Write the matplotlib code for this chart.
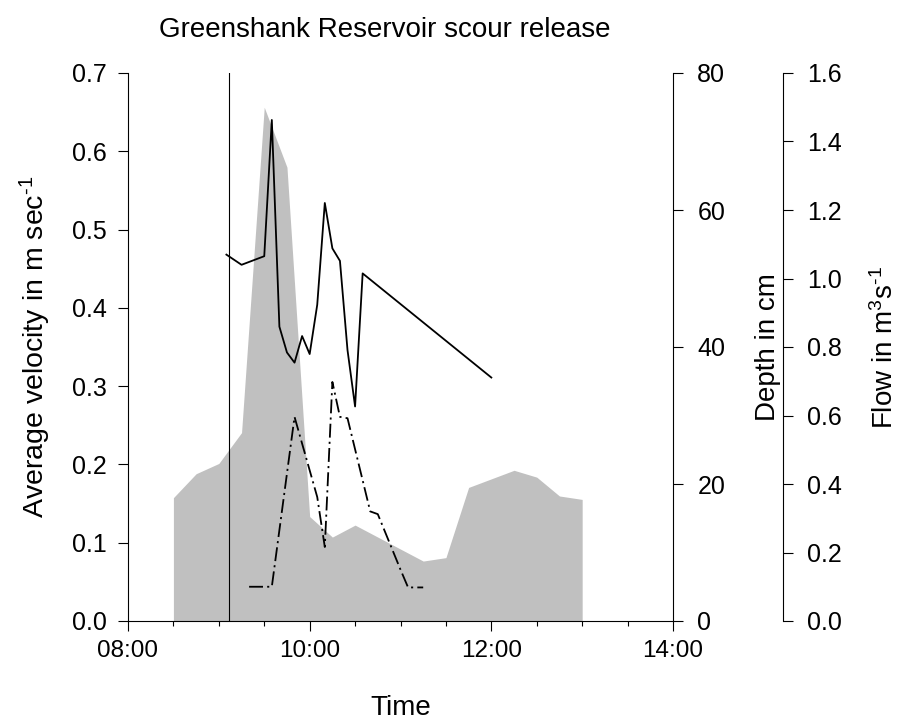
import numpy as np
import matplotlib
matplotlib.use("Agg")
import matplotlib.pyplot as plt
from matplotlib.ticker import FuncFormatter, MultipleLocator

plt.rcParams['font.family'] = ['Liberation Sans', 'DejaVu Sans']
plt.rcParams['mathtext.fontset'] = 'custom'
plt.rcParams['mathtext.rm'] = 'Liberation Sans'
plt.rcParams['mathtext.default'] = 'regular'
plt.rcParams['lines.scale_dashes'] = False

# flow (grey area), m3/s
flow_time = ["08:30", "08:45", "09:00", "09:15", "09:30", "09:45", "10:00", "10:15",
             "10:30", "11:15", "11:30", "11:45", "12:00", "12:15", "12:30", "12:45", "13:00"]
flow = [0.36, 0.43, 0.46, 0.55, 1.50, 1.325, 0.305, 0.245,
        0.28, 0.175, 0.185, 0.39, 0.415, 0.44, 0.42, 0.365, 0.355]

# average velocity (solid line), m/s
vel_time = ["09:05", "09:15", "09:30", "09:35", "09:40", "09:45", "09:50", "09:55", "10:00",
            "10:05", "10:10", "10:15", "10:20", "10:25", "10:30", "10:35", "12:00"]
velocity = [0.468, 0.455, 0.466, 0.640, 0.376, 0.343, 0.330, 0.364, 0.341,
            0.404, 0.534, 0.476, 0.460, 0.346, 0.274, 0.444, 0.311]

# depth (dash-dot line), cm
depth_time = ["09:20", "09:35", "09:50", "10:05", "10:10", "10:15", "10:20", "10:25",
              "10:40", "10:45", "11:00", "11:05", "11:15"]
depth = [5, 5, 29.8, 18.1, 10.8, 34.9, 29.8, 29.6, 16.0, 15.6, 7.5, 4.9, 4.9]

release_time = "09:07"


def hours(ts):
    return np.array([int(t[:2]) + int(t[3:]) / 60 for t in ts])


fig = plt.figure(figsize=(9.04, 7.24), dpi=100)
ax = fig.add_axes([128 / 904, 1 - 621 / 724, 545 / 904, 548 / 724])
axd = ax.twinx()
axf = ax.twinx()

axf.set_zorder(1)
axd.set_zorder(2)
ax.set_zorder(3)
for a in (ax, axd, axf):
    a.patch.set_visible(False)

axf.fill_between(hours(flow_time), flow, 0, color='#c0c0c0', lw=0)
axf.set_ylim(0, 1.6)
axf.set_yticks(np.arange(0, 1.61, 0.2))
axf.yaxis.set_major_formatter(FuncFormatter(lambda v, p: f"{v:.1f}"))
axf.spines['right'].set_position(('outward', 79))

ax.axvline(hours([release_time])[0], color='black', lw=0.8)
ax.plot(hours(vel_time), velocity, color='black', lw=1.3)
ax.set_ylim(0, 0.7)
ax.set_yticks(np.arange(0, 0.71, 0.1))
ax.yaxis.set_major_formatter(FuncFormatter(lambda v, p: f"{v:.1f}"))

axd.plot(hours(depth_time), depth, color='black', lw=1.3, dashes=(10, 3, 1.5, 3))
axd.set_ylim(0, 80)
axd.set_yticks([0, 20, 40, 60, 80])

ax.set_xlim(8, 14)
ax.xaxis.set_major_locator(MultipleLocator(2))
ax.xaxis.set_minor_locator(MultipleLocator(0.5))
ax.xaxis.set_major_formatter(FuncFormatter(lambda v, p: f"{int(round(v)):02d}:00"))

for a in (ax, axd, axf):
    a.spines['top'].set_visible(False)
ax.spines['right'].set_visible(False)
for a in (axd, axf):
    a.spines['left'].set_visible(False)
    a.spines['bottom'].set_visible(False)

ax.tick_params(axis='both', which='major', direction='out', length=7.5, width=0.8,
               labelsize=18)
ax.tick_params(axis='y', which='major', pad=8)
ax.tick_params(axis='x', which='major', pad=6, labelsize=17.5)
ax.tick_params(axis='x', which='minor', direction='out', length=3.5, width=0.8)
for a in (axd, axf):
    a.tick_params(axis='y', direction='out', length=7.5, width=0.8, labelsize=18, pad=10)

ax.set_xlabel("Time", fontsize=20)
ax.xaxis.set_label_coords(0.5, -0.159)
ax.set_ylabel(r"Average velocity in m sec$^{\text{-1}}$", fontsize=20.5)
ax.yaxis.set_label_coords(-0.169, 0.5)
axd.set_ylabel("Depth in cm", fontsize=20)
axd.yaxis.set_label_coords(1.174, 0.5)
axf.set_ylabel(r"Flow in m$^{3}$s$^{\text{-1}}$", fontsize=20)
axf.yaxis.set_label_coords(1.39, 0.5)
for lab in (ax.xaxis.label, ax.yaxis.label, axd.yaxis.label, axf.yaxis.label):
    lab.set_va('center')
    lab.set_ha('center')
fig.text(385 / 904, 1 - 30 / 724, "Greenshank Reservoir scour release", fontsize=20,
         ha='center', va='center')

fig.savefig("out.png", dpi=100)
